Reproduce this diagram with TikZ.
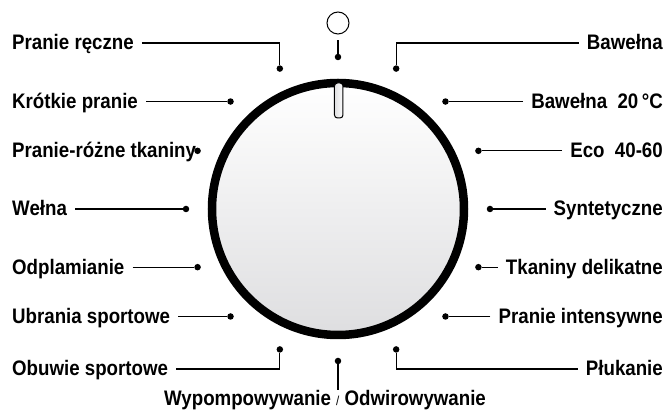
\documentclass[tikz,border=0pt]{standalone}
\usepackage{fontspec}
\setmainfont{Liberation Sans}[FakeStretch=0.89]
\definecolor{dialgray}{RGB}{222,222,224}
\usetikzlibrary{calc}

\begin{document}
\begin{tikzpicture}[x=1pt, y=1pt,
    lbl/.style={font=\fontsize{21}{21}\selectfont\bfseries, inner xsep=8pt, inner ysep=3pt, text height=16pt, text depth=2pt},
    pin/.style={circle, fill=black, inner sep=0pt, minimum size=6.5pt},
    lead/.style={line width=1.2pt}]
  \useasboundingbox (-338,-208) rectangle (329,209);
  % dial with its pointer
  \draw[line width=8.5pt, top color=white, bottom color=dialgray] (0,0) circle (126);
  \draw[line width=1pt, rounded corners=3pt, left color=dialgray, right color=white] (-3.5,91) rectangle (5,126);
  % programme positions, clockwise from the top
  \foreach \i in {0,...,15}
    \node[pin] (d\i) at ({90-22.5*\i}:152) {};
  % off
  \node[draw, circle, line width=1pt, minimum size=22pt, inner sep=0pt] (off) at (0,186) {};
  \draw[lead, shorten >=6pt] (d0) -- (off);
  % left side
  \node[lbl, anchor=west] (hand) at (-334,166) {Pranie ręczne};
  \draw[lead] (hand) -| (d15);
  \node[lbl, anchor=west] (short) at (-334,0 |- d14) {Krótkie pranie};
  \draw[lead] (short) -- (d14);
  \node[lbl, anchor=west] (mixed) at (-334,0 |- d13) {Pranie-różne tkaniny};
  \node[lbl, anchor=west] (wool) at (-334,0 |- d12) {Wełna};
  \draw[lead] (wool) -- (d12);
  \node[lbl, anchor=west] (stain) at (-334,0 |- d11) {Odplamianie};
  \draw[lead] (stain) -- (d11);
  \node[lbl, anchor=west] (sport) at (-334,0 |- d10) {Ubrania sportowe};
  \draw[lead] (sport) -- (d10);
  \node[lbl, anchor=west] (shoes) at (-334,-160) {Obuwie sportowe};
  \draw[lead] (shoes) -| (d9);
  % bottom
  \coordinate (spin) at (0,-181);
  \draw[lead] (d8) -- (spin);
  \node[lbl, anchor=base] (drain) at (-13,-197) {Wypompowywanie {\fontsize{13}{13}\selectfont\mdseries /} Odwirowywanie};
  % right side
  \node[lbl, anchor=east] (cotton) at (333,166) {Bawełna};
  \draw[lead] (cotton) -| (d1);
  \node[lbl, anchor=east] (cold) at (333,0 |- d2) {Bawełna\ \ 20\,°C};
  \draw[lead] (cold) -- (d2);
  \node[lbl, anchor=east] (eco) at (333,0 |- d3) {Eco\ \ 40-60};
  \draw[lead] (eco) -- (d3);
  \node[lbl, anchor=east] (synth) at (333,0 |- d4) {Syntetyczne};
  \draw[lead] (synth) -- (d4);
  \node[lbl, anchor=east] (delic) at (333,0 |- d5) {Tkaniny delikatne};
  \draw[lead] (delic) -- (d5);
  \node[lbl, anchor=east] (intens) at (333,0 |- d6) {Pranie intensywne};
  \draw[lead] (intens) -- (d6);
  \node[lbl, anchor=east] (rinse) at (333,-160) {Płukanie};
  \draw[lead] (rinse) -| (d7);
\end{tikzpicture}
\end{document}
